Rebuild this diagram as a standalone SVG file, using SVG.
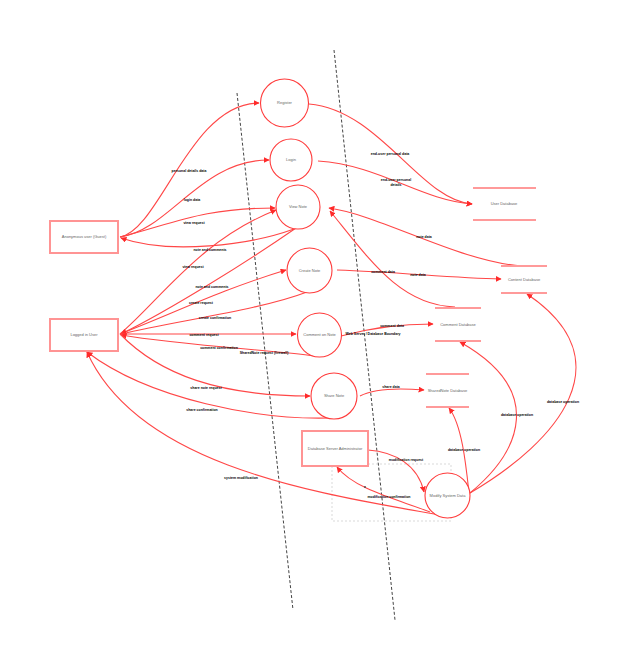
<svg xmlns="http://www.w3.org/2000/svg" width="625" height="670" viewBox="0 0 625 670">
<defs>
<marker id="ah" viewBox="0 0 10 10" refX="9" refY="5" markerWidth="6" markerHeight="6" markerUnits="userSpaceOnUse" orient="auto">
<path d="M0,0 L10,5 L0,10 z" fill="#ff2a2a"/>
</marker>
<style>
.n{font-family:"Liberation Sans",Arial,sans-serif;font-size:4px;fill:#666;text-anchor:middle;dominant-baseline:middle}
.l{font-family:"Liberation Sans",Arial,sans-serif;font-size:3.5px;fill:#000;font-weight:bold;text-anchor:middle;dominant-baseline:middle}
.c{fill:#fff;stroke:#ff3b3b;stroke-width:1.1}
.b{fill:#fff;stroke:#ff9494;stroke-width:2}
.ds{stroke:#ff9a9a;stroke-width:2}
.e{fill:none;stroke:#ff4747;stroke-width:1.1;marker-end:url(#ah)}
.bd{fill:none;stroke:#444;stroke-width:1;stroke-dasharray:3,2}
</style>
</defs>
<rect width="625" height="670" fill="#fff"/>
<g id="boundaries">
<line class="bd" x1="237" y1="93" x2="293" y2="610"/>
<line class="bd" x1="334" y1="50" x2="395" y2="620"/>
<rect x="332" y="464" width="119" height="57" fill="none" stroke="#cfcfcf" stroke-width="0.8" stroke-dasharray="2,2"/>
</g>
<g id="connectors">
<path class="e" d="M120,237 C160,230 190,103 259,103"/>
<path class="e" d="M120,237 C170,230 200,160 269,160"/>
<path class="e" d="M120,237 C170,225 200,208 275,208"/>
<path class="e" d="M294,229 C250,245 170,255 121,238"/>
<path class="e" d="M120,334 C160,300 200,240 276,210"/>
<path class="e" d="M296,228 C250,260 170,310 121,334"/>
<path class="e" d="M120,334 C170,315 220,290 286,270"/>
<path class="e" d="M307,292 C260,310 180,320 121,334"/>
<path class="e" d="M120,334 L296,334"/>
<path class="e" d="M315,356 C270,350 180,345 121,335"/>
<path class="e" d="M120,334 C160,375 220,396 310,396"/>
<path class="e" d="M330,418 C260,420 150,400 87,352"/>
<path class="e" d="M445,516 C330,495 140,470 87,352"/>
<path class="e" d="M309,104 C380,110 420,200 472,204"/>
<path class="e" d="M318,161 C380,165 420,200 472,204"/>
<path class="e" d="M522,266 C460,262 380,215 329,208"/>
<path class="e" d="M455,307 C400,305 370,260 330,211"/>
<path class="e" d="M337,270 C400,272 450,278 501,279"/>
<path class="e" d="M341,336 C370,328 400,324 433,324"/>
<path class="e" d="M360,396 C375,388 400,388 424,390"/>
<path class="e" d="M469,493 C466,465 462,425 449,408"/>
<path class="e" d="M470,493 C522,450 545,390 460,342"/>
<path class="e" d="M470,493 C560,440 625,360 527,294"/>
<path class="e" d="M368,450 C395,452 418,465 424,492"/>
<path class="e" d="M430,512 C400,500 355,490 337,467"/>
<circle cx="365" cy="487" r="0.9" fill="#444"/>
<g id="edge-labels">
<text class="l" x="189" y="171">personal details data</text>
<text class="l" x="192" y="200">login data</text>
<text class="l" x="194" y="223">view request</text>
<text class="l" x="210" y="250">note and comments</text>
<text class="l" x="193" y="267">view request</text>
<text class="l" x="212" y="287">note and comments</text>
<text class="l" x="201" y="303">create request</text>
<text class="l" x="215" y="318">create confirmation</text>
<text class="l" x="204" y="335">comment request</text>
<text class="l" x="219" y="348">comment confirmation</text>
<text class="l" x="206" y="388">share note request</text>
<text class="l" x="202" y="410">share confirmation</text>
<text class="l" x="241" y="478">system modification</text>
<text class="l" x="390" y="154">end-user personal data</text>
<text class="l" x="396" y="180">end-user personal</text>
<text class="l" x="396" y="185">details</text>
<text class="l" x="424" y="237">note data</text>
<text class="l" x="383" y="272">comment data</text>
<text class="l" x="418" y="275">note data</text>
<text class="l" x="392" y="326">comment data</text>
<text class="l" x="391" y="387">share data</text>
<text class="l" x="464" y="450">database operation</text>
<text class="l" x="517" y="415">database operation</text>
<text class="l" x="563" y="402">database operation</text>
<text class="l" x="406" y="460">modification request</text>
<text class="l" x="389" y="497">modification confirmation</text>
<text class="l" x="264" y="353">SharedNote request (firewall)</text>
<text class="l" x="373" y="334">Web Server / Database Boundary</text>
</g>
</g>
<g id="anon"><rect class="b" x="50" y="221" width="68" height="32"/><text class="n" x="84" y="237">Anonymous user (Guest)</text></g>
<g id="logged"><rect class="b" x="50" y="319" width="68" height="32"/><text class="n" x="84" y="335">Logged in User</text></g>
<g id="register"><circle class="c" cx="284.5" cy="103" r="24"/><text class="n" x="284.5" y="103">Register</text></g>
<g id="login"><circle class="c" cx="291" cy="160" r="21"/><text class="n" x="291" y="160">Login</text></g>
<g id="viewnote"><circle class="c" cx="298" cy="207" r="22"/><text class="n" x="298" y="207">View Note</text></g>
<g id="createnote"><circle class="c" cx="309.5" cy="270.5" r="22.5"/><text class="n" x="309.5" y="270.5">Create Note</text></g>
<g id="commentnote"><circle class="c" cx="319.5" cy="335" r="22"/><text class="n" x="319.5" y="335">Comment on Note</text></g>
<g id="sharenote"><circle class="c" cx="334" cy="396" r="23"/><text class="n" x="334" y="396">Share Note</text></g>
<g id="modify"><circle class="c" cx="447.5" cy="495.5" r="22.5" fill="none"/><text class="n" x="447.5" y="495.5">Modify System Data</text></g>
<g id="admin"><rect class="b" x="302" y="431" width="66" height="35"/><text class="n" x="335" y="449">Database Server Administrator</text></g>
<g id="userdb"><line class="ds" x1="473" y1="188" x2="536" y2="188"/><line class="ds" x1="473" y1="220" x2="536" y2="220"/><text class="n" x="504" y="204">User Database</text></g>
<g id="contentdb"><line class="ds" x1="501" y1="266" x2="547" y2="266"/><line class="ds" x1="501" y1="293" x2="547" y2="293"/><text class="n" x="524" y="279.5">Content Database</text></g>
<g id="commentdb"><line class="ds" x1="435" y1="308" x2="481" y2="308"/><line class="ds" x1="435" y1="341" x2="481" y2="341"/><text class="n" x="458" y="324.5">Comment Database</text></g>
<g id="sharedb"><line class="ds" x1="426" y1="374" x2="469" y2="374"/><line class="ds" x1="426" y1="407" x2="469" y2="407"/><text class="n" x="447.5" y="390.5">SharedNote Database</text></g>
</svg>
